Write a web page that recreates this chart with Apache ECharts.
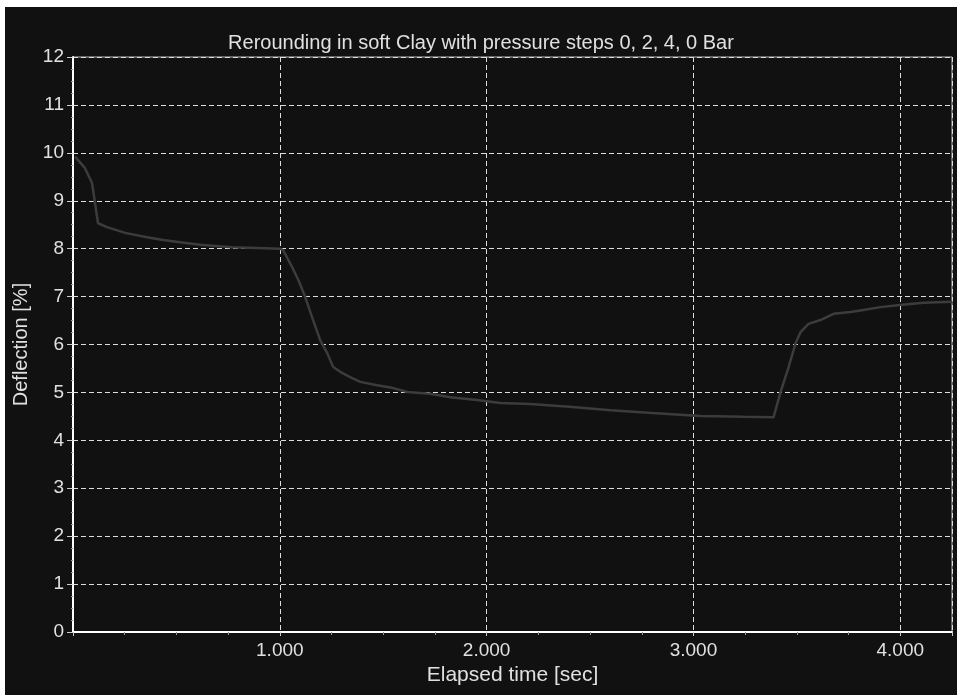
<!DOCTYPE html>
<html>
<head>
<meta charset="utf-8">
<script src="https://cdn.jsdelivr.net/npm/echarts@6/dist/echarts.min.js"></script>
<style>
html,body{margin:0;padding:0;background:#fff;width:957px;height:695px;overflow:hidden;}
#chart{position:absolute;left:5px;top:7px;width:952px;height:688px;background:#111;}
</style>
</head>
<body>
<div id="chart"></div>
<script>
const titleText = 'Rerounding in soft Clay with pressure steps 0, 2, 4, 0 Bar';
const xAxisName = 'Elapsed time [sec]';
const yAxisName = 'Deflection [%]';
const xTicks = [0, 1000, 2000, 3000, 4000];
const yTicks = [0, 1, 2, 3, 4, 5, 6, 7, 8, 9, 10, 11, 12];
const timeSec = [10, 58, 92, 121, 164, 252, 358, 436, 508, 614, 769, 929, 1001,
  1016, 1059, 1089, 1122, 1156, 1195, 1229, 1258, 1292, 1340, 1389, 1471, 1548, 1616, 1727, 1824, 1954, 2066, 2211,
  2400, 2600, 2800, 3033, 3241, 3387,
  3420, 3460, 3494, 3518, 3556, 3614, 3677, 3759, 3822, 3904, 3986, 4112, 4252];
const deflection = [9.92, 9.68, 9.37, 8.53, 8.45, 8.33, 8.24, 8.18, 8.14, 8.08, 8.03, 8.01, 8.0,
  7.97, 7.62, 7.35, 7.0, 6.57, 6.09, 5.82, 5.53, 5.43, 5.32, 5.22, 5.15, 5.09, 5.01, 4.97, 4.9, 4.84, 4.78, 4.76,
  4.7, 4.63, 4.57, 4.51, 4.49, 4.48,
  4.99, 5.53, 6.03, 6.26, 6.43, 6.51, 6.64, 6.68, 6.72, 6.78, 6.82, 6.87, 6.89];

const seriesData = timeSec.map((t, i) => [t, deflection[i]]);
const fontFam = '"Liberation Sans", Arial, sans-serif';
const chart = echarts.init(document.getElementById('chart'), null, {renderer: 'canvas'});
chart.setOption({
  backgroundColor: '#111',
  animation: false,
  title: {
    text: titleText, left: 'center', top: 21,
    textStyle: {color: '#e0e0e0', fontSize: 20, fontWeight: 'normal', fontFamily: fontFam}
  },
  grid: {left: 68, top: 50, right: 5, bottom: 63, outerBoundsMode: 'none', containLabel: false,
    show: true, borderColor: '#bbb', borderWidth: 1, backgroundColor: 'transparent'},
  xAxis: {
    type: 'value', min: xTicks[0], max: 4250, interval: 1000,
    name: xAxisName, nameLocation: 'middle', nameGap: 32,
    nameTextStyle: {color: '#e0e0e0', fontSize: 21, fontFamily: fontFam},
    axisLine: {show: true, lineStyle: {color: '#fff', width: 2}},
    axisTick: {show: true, length: 4, lineStyle: {color: '#ccc'}},
    minorTick: {show: true, splitNumber: 4, length: 3, lineStyle: {color: '#999'}},
    axisLabel: {color: '#e0e0e0', fontSize: 19, fontFamily: fontFam, margin: 9, showMaxLabel: false,
      formatter: v => ((v === 0 || xTicks.indexOf(v) < 0) ? '' : (v / 1000).toFixed(3))},
    splitLine: {show: true, lineStyle: {color: '#ddd', type: [5, 3], width: 1}}
  },
  yAxis: {
    type: 'value', min: yTicks[0], max: yTicks[yTicks.length - 1], interval: 1,
    name: yAxisName, nameLocation: 'middle', nameGap: 40,
    nameTextStyle: {color: '#e0e0e0', fontSize: 20, fontFamily: fontFam},
    axisLine: {show: true, lineStyle: {color: '#fff', width: 2}},
    axisTick: {show: true, length: 6, lineStyle: {color: '#ccc'}},
    minorTick: {show: true, splitNumber: 4, length: 2, lineStyle: {color: '#999'}},
    axisLabel: {color: '#e0e0e0', fontSize: 19, fontFamily: fontFam, margin: 9},
    splitLine: {show: true, lineStyle: {color: '#ddd', type: [5, 3], width: 1}}
  },
  series: [{
    type: 'line', data: seriesData, showSymbol: false, symbol: 'none',
    lineStyle: {color: '#3c3c3c', width: 2.5}
  }]
});
</script>
</body>
</html>
